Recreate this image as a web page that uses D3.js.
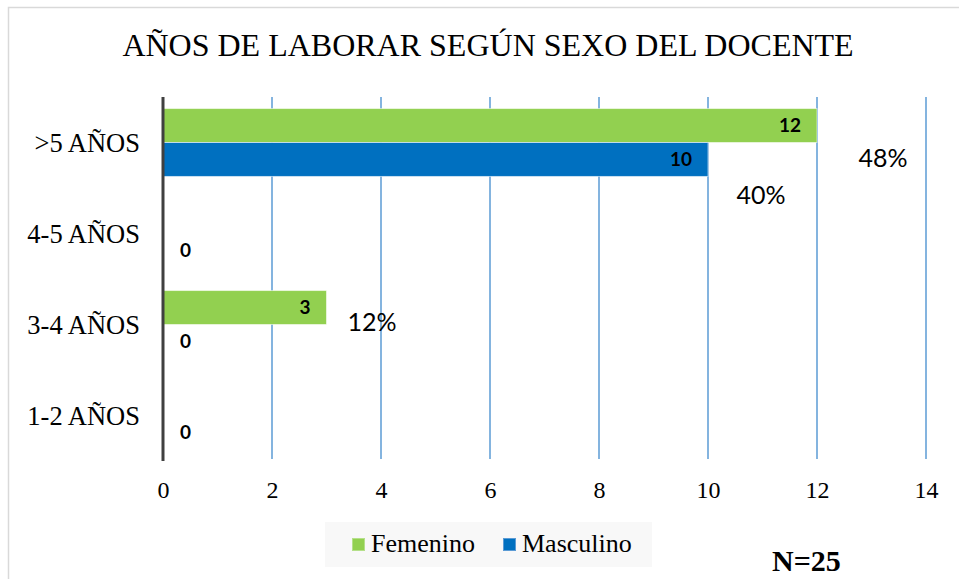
<!DOCTYPE html>
<html>
<head>
<meta charset="utf-8">
<script src="https://cdn.jsdelivr.net/npm/d3@7"></script>
<style>
  html, body { margin: 0; padding: 0; background: #fff; }
  svg { display: block; }
</style>
</head>
<body>
<svg id="chart" width="959" height="579"></svg>
<script>
// ---- data ----
const title = "AÑOS DE LABORAR SEGÚN SEXO DEL DOCENTE";
const categories = [">5 AÑOS", "4-5 AÑOS", "3-4 AÑOS", "1-2 AÑOS"];
const seriesNames = ["Femenino", "Masculino"];
const femenino = [12, 0, 3, 0];
const masculino = [10, 0, 0, 0];
const xTicks = [0, 2, 4, 6, 8, 10, 12, 14];
const totalN = 25;
// which value labels are visible (Excel showed only these zeros)
const femeninoLabelShown = [true, false, true, false];
const masculinoLabelShown = [true, true, true, true];
// percentage annotations: [series, category]
const percentNotes = [["Femenino", ">5 AÑOS"], ["Masculino", ">5 AÑOS"], ["Femenino", "3-4 AÑOS"]];

// ---- layout / style ----
const W = 959, H = 579;
const plot = { left: 163, right: 926, top: 97, bottom: 461 };
const colors = { Femenino: "#92d050", Masculino: "#0070c0" };
const noteOffsets = [[66, 41], [53, 45], [45.5, 23.5]]; // px offsets from bar end / bar center

const svg = d3.select("#chart");

// frame
svg.append("rect").attr("x", 8.5).attr("y", 7.5).attr("width", W + 20).attr("height", H + 20)
  .attr("fill", "#fff").attr("stroke", "#d9d9d9").attr("stroke-width", 1.5);

const x = d3.scaleLinear().domain([0, 14]).range([plot.left, plot.right]);
const y = d3.scaleBand().domain(categories).range([plot.top, plot.bottom]).padding(0);
const ys = d3.scaleBand().domain(seriesNames).range([0, y.bandwidth()]).paddingInner(0).paddingOuter(0.34);

// title
svg.append("text").attr("x", 488).attr("y", 56).attr("text-anchor", "middle")
  .attr("font-family", "'Liberation Serif', 'Times New Roman', serif").attr("font-size", 32)
  .attr("fill", "#000").text(title);

// gridlines
svg.append("g").selectAll("line").data(xTicks.filter(d => d > 0)).join("line")
  .attr("x1", d => x(d)).attr("x2", d => x(d))
  .attr("y1", plot.top).attr("y2", plot.bottom - 2)
  .attr("stroke", "#5b9bd5").attr("stroke-width", 1.5);

// x axis tick labels
const xAxis = d3.axisBottom(x).tickValues(xTicks).tickSize(0).tickPadding(0).tickFormat(d3.format("d"));
const gx = svg.append("g").attr("transform", `translate(0,${plot.bottom})`).call(xAxis);
gx.select(".domain").remove();
gx.attr("font-family", null);
gx.selectAll("text").attr("dy", 0).attr("y", 37)
  .attr("font-family", "'Liberation Serif', 'Times New Roman', serif").attr("font-size", 24).attr("fill", "#000");

// y axis labels
const yAxis = d3.axisLeft(y).tickSize(0).tickPadding(23);
const gy = svg.append("g").attr("transform", `translate(${plot.left},0)`).call(yAxis);
gy.select(".domain").remove();
gy.attr("font-family", null);
gy.selectAll("text").attr("dy", "0.34em")
  .attr("font-family", "'Liberation Serif', 'Times New Roman', serif").attr("font-size", 26.5).attr("fill", "#000");

// bars
const rows = [];
categories.forEach((c, i) => {
  rows.push({ cat: c, series: "Femenino", value: femenino[i], show: femeninoLabelShown[i] });
  rows.push({ cat: c, series: "Masculino", value: masculino[i], show: masculinoLabelShown[i] });
});

svg.append("g").selectAll("rect").data(rows.filter(d => d.value > 0)).join("rect")
  .attr("x", x(0)).attr("y", d => y(d.cat) + ys(d.series))
  .attr("width", d => x(d.value) - x(0)).attr("height", ys.bandwidth())
  .attr("fill", d => colors[d.series])
  .attr("stroke", "#ffffff").attr("stroke-opacity", 0.55).attr("stroke-width", 1);

// axis line
svg.append("line").attr("x1", x(0)).attr("x2", x(0)).attr("y1", plot.top).attr("y2", plot.bottom)
  .attr("stroke", "#404040").attr("stroke-width", 3);

// value labels
svg.append("g").selectAll("text").data(rows.filter(d => d.show)).join("text")
  .attr("x", d => d.value > 0 ? x(d.value) - 16 : x(0) + 17)
  .attr("y", d => y(d.cat) + ys(d.series) + ys.bandwidth() / 2)
  .attr("dy", "0.36em")
  .attr("text-anchor", d => d.value > 0 ? "end" : "start")
  .attr("font-family", "Lato, 'Open Sans', sans-serif").attr("font-weight", "bold").attr("font-size", 19)
  .attr("fill", "#000").text(d => d.value);

// percentage notes
svg.append("g").selectAll("text").data(percentNotes).join("text")
  .attr("x", (d, i) => {
    const v = (d[0] === "Femenino" ? femenino : masculino)[categories.indexOf(d[1])];
    return x(v) + noteOffsets[i][0];
  })
  .attr("y", (d, i) => y(d[1]) + ys(d[0]) + ys.bandwidth() / 2 + noteOffsets[i][1])
  .attr("text-anchor", "middle")
  .attr("font-family", "Lato, 'Open Sans', sans-serif").attr("font-size", 25).attr("fill", "#000")
  .text(d => {
    const v = (d[0] === "Femenino" ? femenino : masculino)[categories.indexOf(d[1])];
    return Math.round(v / totalN * 100) + "%";
  });

// legend
const lg = svg.append("g");
lg.append("rect").attr("x", 325).attr("y", 522).attr("width", 327).attr("height", 45).attr("fill", "#f8f8f8");
const legendItems = [{ name: "Femenino", x: 352 }, { name: "Masculino", x: 503 }];
legendItems.forEach(it => {
  lg.append("rect").attr("x", it.x + 0.5).attr("y", 538.5).attr("width", 12).attr("height", 12)
    .attr("fill", colors[it.name]).attr("stroke", it.name === "Femenino" ? "#b5e08a" : "#5b9bd5").attr("stroke-width", 1);
  lg.append("text").attr("x", it.x + 19).attr("y", 552)
    .attr("font-family", "'Liberation Serif', 'Times New Roman', serif").attr("font-size", 26)
    .attr("fill", "#000").text(it.name);
});

// N annotation
svg.append("text").attr("x", 772).attr("y", 571)
  .attr("font-family", "'Liberation Serif', 'Times New Roman', serif").attr("font-weight", "bold")
  .attr("font-size", 30).attr("fill", "#000").text("N=" + totalN);
</script>
</body>
</html>
